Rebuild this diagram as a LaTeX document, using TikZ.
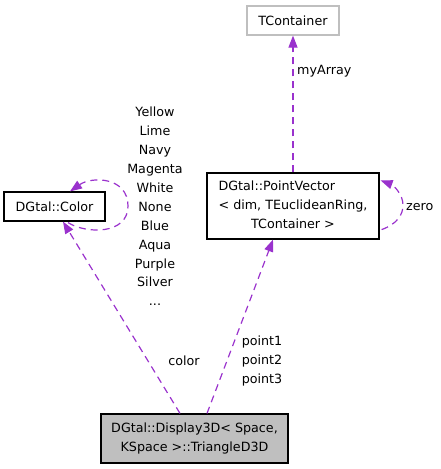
\documentclass[tikz,border=0pt]{standalone}
\usepackage{fontspec}
\setmainfont{DejaVu Sans}
\usetikzlibrary{arrows.meta,calc}
\definecolor{edgepurple}{HTML}{9A32CD}
\definecolor{boxgray}{HTML}{BFBFBF}
\begin{document}
\begin{tikzpicture}[x=1pt,y=-1pt,
  every node/.style={font=\fontsize{12.7}{18.9}\selectfont, inner sep=0pt},
  classbox/.style={draw=black, line width=1.2pt, rectangle, align=center},
  edge/.style={draw=edgepurple, line width=1.2pt, dash pattern=on 7pt off 5pt,
    -{Triangle[length=12pt,width=9pt,fill=edgepurple]}},
  lbl/.style={align=center}]
\useasboundingbox (0,0) rectangle (441,469);
\node[classbox, draw=boxgray, minimum width=92pt, minimum height=29pt] (tc) at (293,20.5) {TContainer};
\node[classbox, minimum width=172pt, minimum height=66pt] (pv) at (293,206)
  {\begin{tabular}{@{}l@{}}DGtal::PointVector\\ \textless{} dim, TEuclideanRing,\\ \multicolumn{1}{@{}c@{}}{TContainer \textgreater}\end{tabular}};
\node[classbox, minimum width=101pt, minimum height=29pt] (col) at (54.5,206.5) {DGtal::Color};
\node[classbox, fill=boxgray, minimum width=187pt, minimum height=49pt] (tri) at (194.5,438.5)
  {DGtal::Display3D\textless{} Space,\\ KSpace \textgreater::TriangleD3D};
% edges
\draw[edge] (pv.north) -- (tc.south);
\node[lbl, anchor=west] (lmy) at (297,71) {myArray};
\draw[edge] ($(pv.south east)+(2,-10)$) .. controls (397,224) and (403,215) .. (403,205)
  .. controls (403,194) and (393,185) .. ($(pv.north east)+(1,8)$);
\node[lbl, anchor=west] (lzero) at (406,207) {zero};
\draw[edge] ($(col.south)+(13.5,1)$) .. controls (86,234) and (128,235) .. (128,206)
  .. controls (128,177) and (92,176) .. ($(col.north)+(15.5,0)$);
\node[lbl] (lcolors) at (155,206.5) {Yellow\\Lime\\Navy\\Magenta\\White\\None\\Blue\\Aqua\\Purple\\Silver\\...};
\draw[edge] ($(tri.north)+(-14.5,0)$) -- ($(col.south)+(8.5,0)$);
\node[lbl] (lcolor) at (184,360.5) {color};
\draw[edge] ($(tri.north)+(12.5,0)$) -- ($(pv.south)+(-20,0)$);
\node[lbl] (lpoints) at (262,361) {point1\\point2\\point3};
\end{tikzpicture}
\end{document}
